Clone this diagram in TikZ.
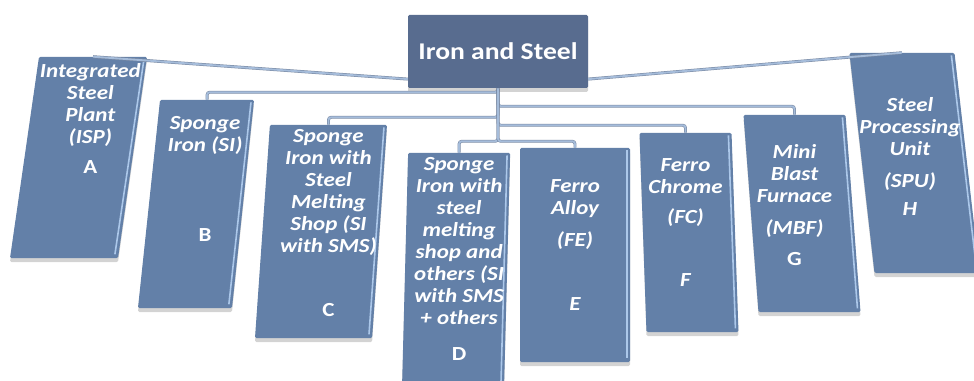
\documentclass[tikz,border=0pt]{standalone}
\usepackage{fontspec}
\usepackage{tikz}
\usetikzlibrary{positioning,shadows}
\newfontfamily\boxfont[FakeStretch=1.15]{Carlito}
\definecolor{boxblue}{RGB}{99,128,168}
\definecolor{rootblue}{RGB}{88,108,143}
\definecolor{shineblue}{RGB}{172,200,234}
\definecolor{linkblue}{RGB}{165,188,218}
\definecolor{linkgray}{RGB}{120,136,162}
\tikzset{
 box/.style
  = {rectangle, xslant=#1, transform shape, fill=boxblue, inner sep=0pt,
     rounded corners=1pt,
     drop shadow={shadow xshift=0pt, shadow yshift=-3pt, opacity=.35}},
 head/.style
  = {rectangle, fill=rootblue, text=white, inner sep=0pt, rounded corners=1pt,
     font=\boxfont\bfseries\fontsize{18}{20}\selectfont,
     drop shadow={shadow xshift=0pt, shadow yshift=-3pt, opacity=.35}},
 lbl/.style
  = {text=white, align=center, inner sep=0pt,
     font=\boxfont\bfseries\itshape\fontsize{15}{16.5}\selectfont},
 conn/.style
  = {draw=linkgray, line width=0.4pt, double=linkblue, double distance=1.4pt,
     rounded corners=2pt},
 shine/.style
  = {draw=shineblue, line width=1.2pt},
}

\begin{document}
\begin{tikzpicture}[x=0.75pt, y=-0.75pt]
\useasboundingbox (0,0) rectangle (974,381);
\clip (0,0) rectangle (974,381);

% Root
\node[head, minimum width=135pt, minimum height=54.75pt] (root) at (498,51.5) {Iron and Steel};

% Units
\node[box=.144, minimum width=81pt, minimum height=150.8pt] (A) at (78.5,157.5) {};
\node[box=.106, minimum width=70.5pt, minimum height=156pt] (B) at (196,204) {};
\node[box=.07, minimum width=87.8pt, minimum height=159.8pt] (C) at (321,231.5) {};
\node[box=.026, minimum width=76.5pt, minimum height=180pt] (D) at (456,273) {};
\node[box=0, minimum width=82.5pt, minimum height=160.5pt] (E) at (575,255) {};
\node[box=-.035, minimum width=69pt, minimum height=149.3pt] (F) at (689,232.5) {};
\node[box=-.076, minimum width=76.5pt, minimum height=147.8pt] (G) at (802,213.5) {};
\node[box=-.114, minimum width=78.8pt, minimum height=165pt] (H) at (914.5,163) {};

% Bevel on the right edges
\foreach \n in {A,B,C,D,E,F,G,H}
  \draw[shine] ([xshift=-2.5pt,yshift=-2pt]\n.north east) -- ([xshift=-2.5pt,yshift=3pt]\n.south east);

% Labels
\node[lbl, below=5pt of A.north, xshift=-2pt] (A-text) {Integrated\\Steel\\Plant\\(ISP)\\[6pt]\upshape A};
\node[lbl, below=12pt of B.north, xshift=-1.5pt] (B-text) {Sponge\\Iron (SI)\\[51pt]\upshape B};
\node[lbl, below=3pt of C.north] (C-text) {Sponge\\Iron with\\Steel\\Melting\\Shop (SI\\with SMS)\\[32pt]\upshape C};
\node[lbl, below=3.5pt of D.north] (D-text) {Sponge\\Iron with\\steel\\melting\\shop and\\others (SI\\with SMS\\+ others\\[10pt]\upshape D};
\node[lbl, below=24pt of E.north] (E-text) {Ferro\\Alloy\\[7.5pt](FE)\\[31pt]E};
\node[lbl, below=19pt of F.north] (F-text) {Ferro\\Chrome\\[6pt](FC)\\[31pt]F};
\node[lbl, below=22pt of G.north] (G-text) {Mini\\Blast\\Furnace\\[7.5pt](MBF)\\[7pt]\upshape G};
\node[lbl, below=33pt of H.north, xshift=6pt] (H-text) {Steel\\Processing\\Unit\\[7.5pt](SPU)\\[5pt]H};

% Connectors
\draw[conn] (root.197) -- (A.north);
\draw[conn] (root.343) -- (H.north);
\foreach \n/\d in {B/4,G/18,C/29,F/37,D/53,E/53}
  \draw[conn] (root.south) -- ++(0,\d) -| (\n.north);

\end{tikzpicture}
\end{document}
